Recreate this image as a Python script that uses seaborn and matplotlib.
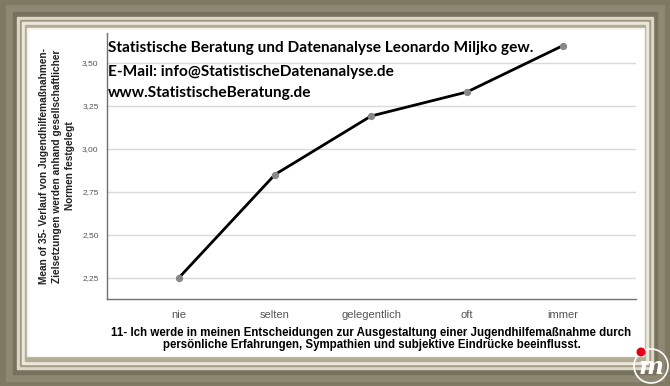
import pandas as pd
import numpy as np
import seaborn as sns
import matplotlib.pyplot as plt
from matplotlib.patches import Rectangle, Ellipse
from matplotlib.ticker import FuncFormatter

categories = ['nie', 'selten', 'gelegentlich', 'oft', 'immer']
means = [2.25, 2.85, 3.19, 3.33, 3.60]

ylabel = ("Mean of 35- Verlauf von Jugendhilfemaßnahmen-\n"
          "Zielsetzungen werden anhand gesellschaftlicher\n"
          "Normen festgelegt")
xlabel = ("11- Ich werde in meinen Entscheidungen zur Ausgestaltung einer Jugendhilfemaßnahme durch\n"
          "persönliche Erfahrungen, Sympathien und subjektive Eindrücke beeinflusst.")
overlay = ["Statistische Beratung und Datenanalyse Leonardo Miljko gew.",
           "E-Mail: info@StatistischeDatenanalyse.de",
           "www.StatistischeBeratung.de"]

sns.set_style("white")
plt.rcParams['font.family'] = ['Liberation Sans', 'DejaVu Sans']

W, H = 670, 386
fig = plt.figure(figsize=(6.7, 3.86), dpi=100)

def px(x0, y0, x1, y1, color):
    # rectangle in pixel coords (top-left origin)
    fig.patches.append(Rectangle((x0 / W, 1 - y1 / H), (x1 - x0) / W, (y1 - y0) / H,
                                 transform=fig.transFigure, color=color, zorder=-5))

# picture frame
px(0, 0, W, H, '#7f7863')
px(6, 5, W - 6, H - 5, '#8e8872')
px(13, 12, W - 13, H - 12, '#77715d')
px(17, 17, W - 17, H - 17, '#ddd9c8')
px(20, 20, W - 20, H - 20, '#a39d88')
px(22, 22, W - 22, H - 22, '#ece9dc')
px(25, 25, W - 25, H - 25, '#b3ad98')
px(27, 28, W - 26, H - 30, '#f4f2ea')
px(29, 30, W - 27, H - 31, 'white')

df = pd.DataFrame({'cat': categories, 'mean': means})
ax = fig.add_axes([107 / W, 1 - 299 / H, (636 - 107) / W, (299 - 33) / H])
ax.set_zorder(2)
ax.patch.set_alpha(0)
sns.lineplot(data=df, x='cat', y='mean', ax=ax, color='black', linewidth=2,
             marker='o', markersize=4.5, markerfacecolor='#888888',
             markeredgecolor='#888888', zorder=3)

ax.set_xlim(-0.75, 4.76)
ax.set_ylim(2.126, 3.673)
ax.set_yticks([2.25, 2.5, 2.75, 3.0, 3.25, 3.5])
ax.yaxis.set_major_formatter(FuncFormatter(lambda v, p: f"{v:.2f}".replace('.', ',')))
ax.grid(axis='y', color='#d9d9d9', linewidth=1)
ax.grid(axis='x', visible=False)
for s in ['top', 'right']:
    ax.spines[s].set_visible(False)
for s in ['left', 'bottom']:
    ax.spines[s].set_color('#707070')
    ax.spines[s].set_linewidth(1)
ax.tick_params(axis='y', labelsize=6, colors='#555555', length=0, pad=6)
ax.tick_params(axis='x', labelsize=8, colors='#555555', length=0, pad=8)
ax.set_xlabel(xlabel, fontsize=8.3, fontweight='bold', color='black', labelpad=5,
              linespacing=1.0)
ax.set_ylabel(ylabel, fontsize=7.3, fontweight='bold', color='#222222', labelpad=5,
              linespacing=1.4)

for i, line in enumerate(overlay):
    fig.text(108 / W, 1 - [48, 72, 93][i] / H, line, fontsize=11.1, fontweight='bold',
             family=['Lato', 'DejaVu Sans'], va='center', ha='left', color='black',
             zorder=5)

# logo
fig.patches.append(Ellipse((651 / W, 1 - 366 / H), 34 / W, 34 / H, transform=fig.transFigure,
                           facecolor='none', edgecolor='white', linewidth=1.2, zorder=5))
fig.text(651 / W, 1 - 367 / H, 'm', fontsize=17, fontstyle='italic', fontweight='bold',
         color='white', ha='center', va='center', family=['DejaVu Serif'], zorder=6)
fig.patches.append(Ellipse((641 / W, 1 - 352 / H), 9 / W, 9 / H, transform=fig.transFigure,
                           facecolor='#e3001b', edgecolor='none', zorder=7))

plt.savefig('out.png', dpi=100)
